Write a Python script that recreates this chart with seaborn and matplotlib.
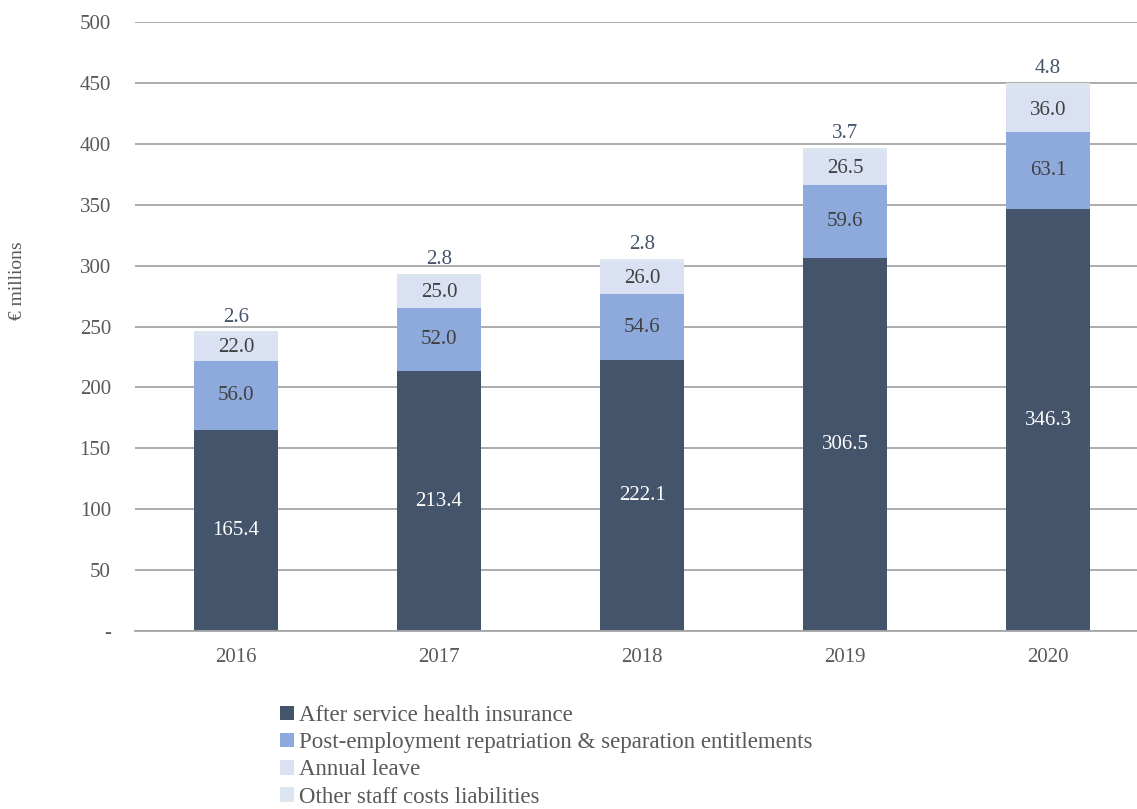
import matplotlib
matplotlib.use("Agg")
import matplotlib.pyplot as plt
import seaborn as sns
import numpy as np
import pandas as pd
from matplotlib.patches import Patch

years = ["2016", "2017", "2018", "2019", "2020"]
health = [165.4, 213.4, 222.1, 306.5, 346.3]
repatriation = [56.0, 52.0, 54.6, 59.6, 63.1]
annual_leave = [22.0, 25.0, 26.0, 26.5, 36.0]
other = [2.6, 2.8, 2.8, 3.7, 4.8]
series_names = ["After service health insurance",
                "Post-employment repatriation & separation entitlements",
                "Annual leave",
                "Other staff costs liabilities"]
colors = ["#44546A", "#8EA9DB", "#D9E1F2", "#DCE6F0"]
yticks = [0, 50, 100, 150, 200, 250, 300, 350, 400, 450, 500]
ytick_labels = ["-", "50", "100", "150", "200", "250", "300", "350", "400", "450", "500"]

sns.set_theme(style="white")
plt.rcParams['font.family'] = ['Liberation Serif', 'DejaVu Serif']

series = [health, repatriation, annual_leave, other]
cum = np.cumsum(np.array(series), axis=0)

fig = plt.figure(figsize=(11.37, 8.09), dpi=100)
ax = fig.add_axes([134.5 / 1137, 1 - 631 / 809, 1015 / 1137, 609 / 809])
ax.set_axisbelow(True)

width = 0.415
for i in range(3, -1, -1):
    df = pd.DataFrame({"year": years, "val": cum[i]})
    sns.barplot(data=df, x="year", y="val", color=colors[i], width=width,
                ax=ax, saturation=1, linewidth=0)

# labels
for j in range(len(years)):
    bottoms = [0] + list(cum[:-1, j])
    for i in range(3):
        v = series[i][j]
        y = bottoms[i] + v / 2
        c = "white" if i == 0 else "#404040"
        ax.text(j, y, f"{v:.1f}", ha="center", va="center", fontsize=15, color=c)
    ax.text(j, cum[3, j] + 4, f"{other[j]:.1f}", ha="center", va="bottom",
            fontsize=15, color="#44546A")

ax.set_ylim(0, 500)
ax.set_xlim(-0.5, 4.5)
ax.set_yticks(yticks)
ax.set_yticklabels(ytick_labels)
ax.yaxis.grid(True, color="#A6A6A6", linewidth=1.3)
ax.xaxis.grid(False)
for s in ["top", "right", "left"]:
    ax.spines[s].set_visible(False)
ax.spines["bottom"].set_color("#A6A6A6")
ax.spines["bottom"].set_linewidth(1.3)
ax.tick_params(axis="both", length=0, labelsize=15, labelcolor="#595959")
ax.tick_params(axis="y", pad=17)
ax.tick_params(axis="x", pad=12)
ax.set_xlabel("")
ax.set_ylabel("")
fig.text(18 / 1137, 1 - 281 / 809, "€ millions", rotation=90, ha="center", va="center",
         fontsize=14, color="#595959")

handles = [Patch(facecolor=colors[i], edgecolor="none", label=series_names[i]) for i in range(4)]
leg = fig.legend(handles=handles, loc="upper left", bbox_to_anchor=(280 / 1137, 1 - 705 / 809),
                 frameon=False, fontsize=16.5, handlelength=0.6, handleheight=0.6,
                 handletextpad=0.25, labelspacing=0.27, borderaxespad=0, borderpad=0)
for t in leg.get_texts():
    t.set_color("#595959")

fig.savefig("out.png", dpi=100)
